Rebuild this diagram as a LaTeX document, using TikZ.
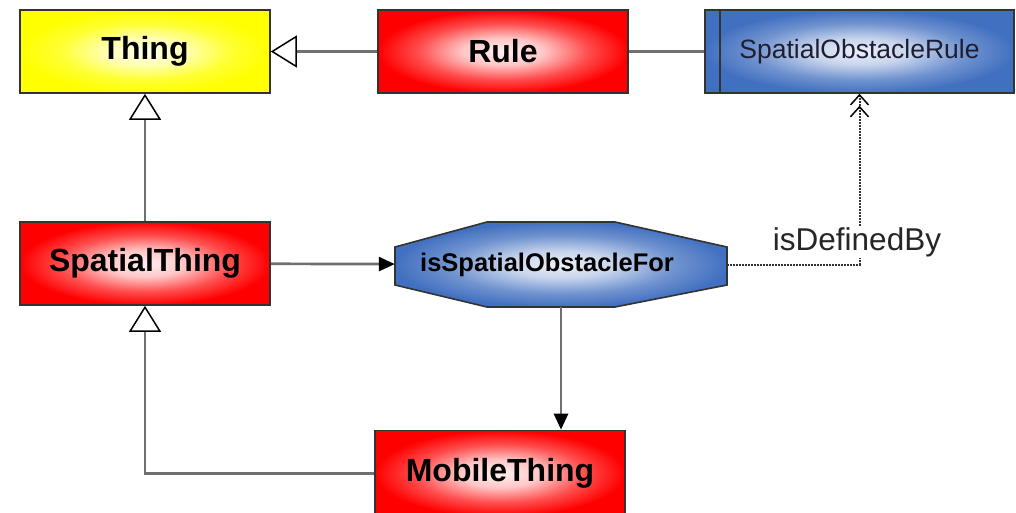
\documentclass[tikz,border=0pt]{standalone}
\usepackage{fontspec}
\setmainfont{Liberation Sans}
\usetikzlibrary{arrows.meta}
\definecolor{linegray}{RGB}{112,112,112}
\definecolor{boxblue}{RGB}{66,112,192}
\definecolor{textblue}{RGB}{30,30,50}
\pgfdeclareradialshading{redglow}{\pgfpoint{0bp}{0bp}}{color(0bp)=(red!6); color(8bp)=(red!22); color(17bp)=(red!70); color(25bp)=(red); color(50bp)=(red)}
\pgfdeclareradialshading{yellowglow}{\pgfpoint{0bp}{0bp}}{color(0bp)=(yellow!8); color(8bp)=(yellow!30); color(17bp)=(yellow!80); color(25bp)=(yellow); color(50bp)=(yellow)}
\pgfdeclareradialshading{blueglow}{\pgfpoint{0bp}{0bp}}{color(0bp)=(boxblue!10); color(8bp)=(boxblue!30); color(17bp)=(boxblue!75); color(25bp)=(boxblue); color(50bp)=(boxblue)}

\begin{document}
\begin{tikzpicture}[x=1pt, y=-1pt,
    classbox/.style={rectangle, draw=black!80, line width=1.6pt, minimum width=250pt, minimum height=83pt, font=\fontsize{32}{36}\selectfont\bfseries},
    redbox/.style={classbox, shading=redglow},
    yellowbox/.style={classbox, shading=yellowglow},
    rulebox/.style={rectangle, draw=black!80, line width=1.6pt, minimum width=309pt, minimum height=83pt, shading=blueglow, text=textblue, font=\fontsize{26.5}{30}\selectfont},
    link/.style={draw=linegray, line width=2.7pt},
    isa/.style={link, -{Triangle[color=black, fill=white, length=26pt, width=32pt, line width=1.5pt]}},
    flow/.style={link, -{Triangle[color=black, length=16pt, width=14pt]}},
    definedby/.style={draw=black!80, line width=2pt, dash pattern=on 1.6pt off 1.4pt, -{Straight Barb[color=black, length=10pt, width=18pt, line width=1.5pt]Straight Barb[color=black, length=10pt, width=18pt, line width=1.5pt]}}
]
        \useasboundingbox (0,0) rectangle (1016,513);

        % Nodes
        \node (thing) [yellowbox] at (145,51.5) {Thing};
        \node (rule) [redbox] at (503,51.5) {Rule};
        \node (srule) [rulebox] at (859.5,51.5) {SpatialObstacleRule};
        \draw[draw=black!80, line width=1.6pt] ([xshift=16pt]srule.north west) -- ([xshift=16pt]srule.south west);
        \node (spatial) [redbox] at (145,263.5) {SpatialThing};
        \node (mobile) [redbox, minimum height=86pt] at (500,473.5) {MobileThing};

        % octagon
        \shadedraw[shading=blueglow, draw=black!80, line width=1.6pt]
            (395,247) -- (487,222) -- (615,222) -- (727,247) -- (727,285) -- (615,307) -- (487,307) -- (395,285) -- cycle;
        \node (obstacle) [rectangle, minimum width=332pt, minimum height=85pt, font=\fontsize{25.5}{28}\selectfont\bfseries] at (561,264.5) {isSpatialObstacleFor\hspace*{28pt}};

        % Edges
        \draw[isa] (rule) -- (thing);
        \draw[link] (rule) -- (srule);
        \draw[isa] (spatial) -- (thing);
        \draw[isa] (mobile.west) -| (spatial.south);
        \draw[flow] (spatial) -- (obstacle);
        \draw[flow] (obstacle.south) -- (obstacle.south |- mobile.north);
        \draw[definedby] (obstacle.east) -| (srule.south);
        \node (defby) [fill=white, inner sep=1pt, text=black!85, font=\fontsize{31.5}{36}\selectfont] at (857,242) {isDefinedBy};

\end{tikzpicture}
\end{document}
